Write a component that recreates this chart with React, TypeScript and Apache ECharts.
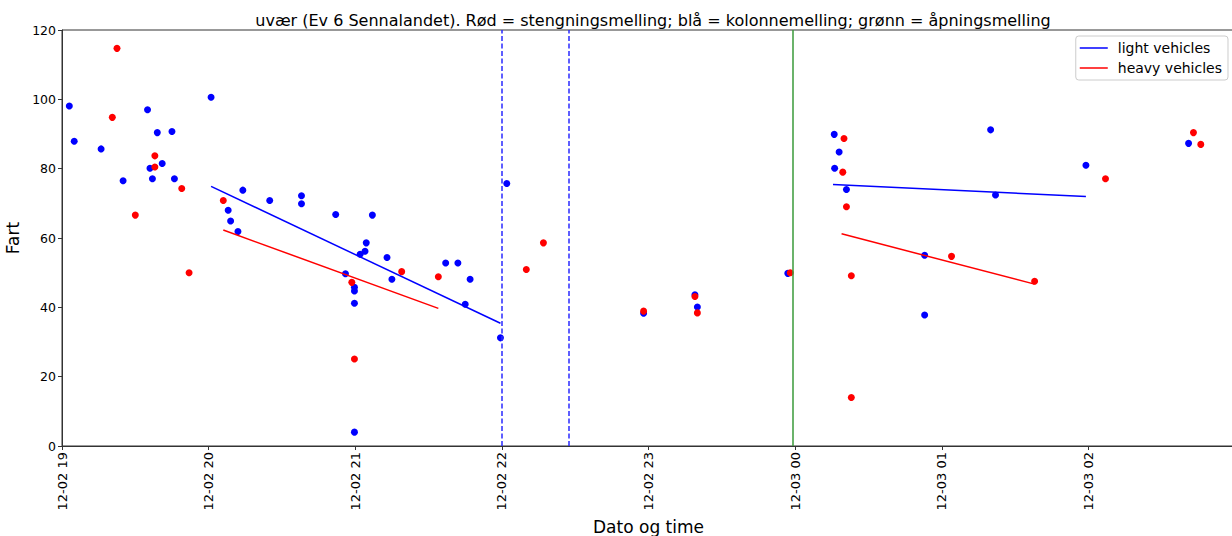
import React, { useEffect, useRef } from "react";
import * as echarts from "echarts";

// Observations: [time "MM-DD HH:MM:SS", speed]
const lightPoints: [string, number][] = [
  ["12-02 19:03:00", 98.1], ["12-02 19:05:00", 87.9], ["12-02 19:16:00", 85.7],
  ["12-02 19:25:00", 76.5], ["12-02 19:35:00", 97.0], ["12-02 19:36:00", 80.1],
  ["12-02 19:37:00", 77.1], ["12-02 19:39:00", 90.4], ["12-02 19:41:00", 81.5],
  ["12-02 19:45:00", 90.7], ["12-02 19:46:00", 77.1], ["12-02 20:01:00", 100.6],
  ["12-02 20:08:00", 68.0], ["12-02 20:09:00", 64.9], ["12-02 20:12:00", 61.9],
  ["12-02 20:14:00", 73.8], ["12-02 20:25:00", 70.8], ["12-02 20:38:00", 72.2],
  ["12-02 20:38:00", 69.9], ["12-02 20:52:00", 66.8], ["12-02 21:07:00", 66.6],
  ["12-02 21:04:30", 58.6], ["12-02 21:04:00", 56.2], ["12-02 21:02:00", 55.3],
  ["12-02 21:13:00", 54.4], ["12-02 20:56:00", 49.7], ["12-02 20:59:40", 45.8],
  ["12-02 20:59:40", 44.7], ["12-02 20:59:40", 41.2], ["12-02 20:59:40", 4.0],
  ["12-02 21:15:00", 48.1], ["12-02 21:37:00", 52.8], ["12-02 21:42:00", 52.8],
  ["12-02 21:47:00", 48.1], ["12-02 21:45:00", 40.9], ["12-02 21:59:25", 31.2],
  ["12-02 22:02:00", 75.7], ["12-02 22:58:00", 38.3], ["12-02 23:19:00", 43.6],
  ["12-02 23:20:00", 40.1], ["12-02 23:57:00", 49.8], ["12-03 00:16:00", 89.9],
  ["12-03 00:18:00", 84.8], ["12-03 00:16:10", 80.1], ["12-03 00:21:00", 74.0],
  ["12-03 01:20:00", 91.2], ["12-03 01:22:00", 72.4], ["12-03 00:53:00", 55.0],
  ["12-03 00:53:00", 37.8], ["12-03 01:59:00", 81.0], ["12-03 02:41:00", 87.3],
];

const heavyPoints: [string, number][] = [
  ["12-02 19:22:30", 114.7], ["12-02 19:20:35", 94.8], ["12-02 19:38:00", 83.7],
  ["12-02 19:38:00", 80.5], ["12-02 19:30:00", 66.6], ["12-02 19:49:00", 74.3],
  ["12-02 20:06:00", 70.8], ["12-02 19:52:00", 50.0], ["12-02 20:58:35", 47.2],
  ["12-02 20:59:40", 25.1], ["12-02 21:19:00", 50.3], ["12-02 21:34:00", 48.8],
  ["12-02 22:10:00", 50.9], ["12-02 22:17:00", 58.6], ["12-02 22:58:00", 38.9],
  ["12-02 23:19:00", 43.1], ["12-02 23:20:00", 38.4], ["12-02 23:58:00", 50.0],
  ["12-03 00:20:00", 88.7], ["12-03 00:19:30", 79.0], ["12-03 00:21:00", 69.0],
  ["12-03 00:23:00", 49.1], ["12-03 00:23:00", 14.0], ["12-03 01:04:00", 54.7],
  ["12-03 01:38:00", 47.5], ["12-03 02:07:00", 77.1], ["12-03 02:43:00", 90.4],
  ["12-03 02:46:00", 87.0],
];

// Trend lines (start, end) per period
const lightTrend1: [string, number][] = [["12-02 20:01:00", 74.9], ["12-02 21:59:25", 35.4]];
const heavyTrend1: [string, number][] = [["12-02 20:06:00", 62.3], ["12-02 21:34:00", 39.7]];
const lightTrend2: [string, number][] = [["12-03 00:15:30", 75.4], ["12-03 01:59:00", 72.0]];
const heavyTrend2: [string, number][] = [["12-03 00:19:00", 61.2], ["12-03 01:38:00", 46.7]];

// Event messages
const closingMessages: string[] = [];
const convoyMessages: string[] = ["12-02 22:00:00", "12-02 22:27:30"];
const openingMessages: string[] = ["12-02 23:59:10"];

const xStart = "12-02 19:00:00";
const xEnd = "12-03 03:00:00";
const yTicks = [0, 20, 40, 60, 80, 100, 120];

const titleText =
  "uvær (Ev 6 Sennalandet). Rød = stengningsmelling; blå = kolonnemelling; grønn = åpningsmelling";

function toMs(s: string): number {
  const [md, hms] = s.split(" ");
  const [mo, d] = md.split("-").map(Number);
  const [h, mi, se] = hms.split(":").map(Number);
  return Date.UTC(2023, mo - 1, d, h, mi, se || 0);
}
const pad = (n: number) => (n < 10 ? "0" + n : "" + n);
function fmt(ms: number): string {
  const d = new Date(ms);
  return `${pad(d.getUTCMonth() + 1)}-${pad(d.getUTCDate())} ${pad(d.getUTCHours())}`;
}
const conv = (arr: [string, number][]) => arr.map(([t, v]) => [toMs(t), v]);

export default function App() {
  const ref = useRef<HTMLDivElement>(null);
  useEffect(() => {
    if (!ref.current) return;
    const chart = echarts.init(ref.current, undefined, { renderer: "svg" });
    const font = "DejaVu Sans";
    const vline = (t: string, color: string, type: any) => ({
      xAxis: toMs(t),
      lineStyle: { color, width: 1.5, type },
    });
    chart.setOption({
      animation: false,
      textStyle: { fontFamily: font, color: "#000" },
      title: {
        text: titleText,
        left: 648,
        textAlign: "center",
        top: 7,
        textStyle: { fontSize: 16, fontWeight: "normal", color: "#000", fontFamily: font },
      },
      grid: {
        left: 62,
        right: -3,
        top: 30,
        bottom: 90,
        containLabel: false,
        outerBoundsMode: "none",
        show: true,
        borderColor: "#333",
        borderWidth: 1,
        backgroundColor: "transparent",
      },
      legend: {
        right: 4,
        top: 36,
        orient: "vertical",
        data: ["light vehicles", "heavy vehicles"],
        icon: "rect",
        itemWidth: 28,
        itemHeight: 1.5,
        itemGap: 6,
        padding: [5, 6, 5, 4],
        backgroundColor: "rgba(255,255,255,0.85)",
        borderColor: "#cccccc",
        borderWidth: 1,
        borderRadius: 3,
        textStyle: { fontSize: 14, lineHeight: 14, color: "#000", fontFamily: font, padding: [0, 0, 0, 5] },
      },
      xAxis: {
        type: "value",
        min: toMs(xStart),
        max: toMs(xEnd),
        interval: 3600000,
        name: "Dato og time",
        nameLocation: "middle",
        nameGap: 68,
        nameTextStyle: { fontSize: 17, color: "#000", fontFamily: font },
        splitLine: { show: false },
        axisLine: { lineStyle: { color: "#333", width: 1 } },
        axisTick: { length: 4, lineStyle: { color: "#333" } },
        axisLabel: {
          rotate: 90,
          fontSize: 13,
          color: "#000",
          margin: 6,
          fontFamily: font,
          formatter: (v: number) => fmt(v),
          showMaxLabel: false,
        },
      },
      yAxis: {
        type: "value",
        min: yTicks[0],
        max: yTicks[yTicks.length - 1],
        interval: yTicks[1] - yTicks[0],
        name: "Fart",
        nameLocation: "middle",
        nameGap: 33,
        nameTextStyle: { fontSize: 17, color: "#000", fontFamily: font },
        splitLine: { show: false },
        axisLine: { show: true, lineStyle: { color: "#333", width: 1 } },
        axisTick: { show: true, length: 4, lineStyle: { color: "#333" } },
        axisLabel: { fontSize: 12.5, color: "#000", margin: 6, fontFamily: font },
      },
      series: [
        {
          name: "events",
          type: "line",
          data: [],
          markLine: {
            silent: true,
            symbol: "none",
            label: { show: false },
            data: [
              ...closingMessages.map((t) => vline(t, "#ff0000", [5, 2.5])),
              ...convoyMessages.map((t) => vline(t, "#2a2aff", [5, 2.5])),
              ...openingMessages.map((t) => vline(t, "#3a9a3a", "solid")),
            ],
          },
        },
        {
          name: "light points",
          type: "scatter",
          data: conv(lightPoints),
          symbolSize: 7,
          itemStyle: { color: "#0000ff", opacity: 1 },
        },
        {
          name: "heavy points",
          type: "scatter",
          data: conv(heavyPoints),
          symbolSize: 7,
          itemStyle: { color: "#ff0000", opacity: 1 },
        },
        {
          name: "light vehicles",
          type: "line",
          data: conv(lightTrend1),
          symbol: "none",
          lineStyle: { color: "#0000ff", width: 1.5 },
          itemStyle: { color: "#0000ff" },
        },
        {
          name: "heavy vehicles",
          type: "line",
          data: conv(heavyTrend1),
          symbol: "none",
          lineStyle: { color: "#ff0000", width: 1.5 },
          itemStyle: { color: "#ff0000" },
        },
        {
          name: "light vehicles",
          type: "line",
          data: conv(lightTrend2),
          symbol: "none",
          lineStyle: { color: "#0000ff", width: 1.5 },
          itemStyle: { color: "#0000ff" },
        },
        {
          name: "heavy vehicles",
          type: "line",
          data: conv(heavyTrend2),
          symbol: "none",
          lineStyle: { color: "#ff0000", width: 1.5 },
          itemStyle: { color: "#ff0000" },
        },
      ],
    });
    return () => chart.dispose();
  }, []);
  return (
    <div
      ref={ref}
      style={{ position: "fixed", left: 0, top: 0, width: 1232, height: 536, background: "#fff" }}
    />
  );
}
